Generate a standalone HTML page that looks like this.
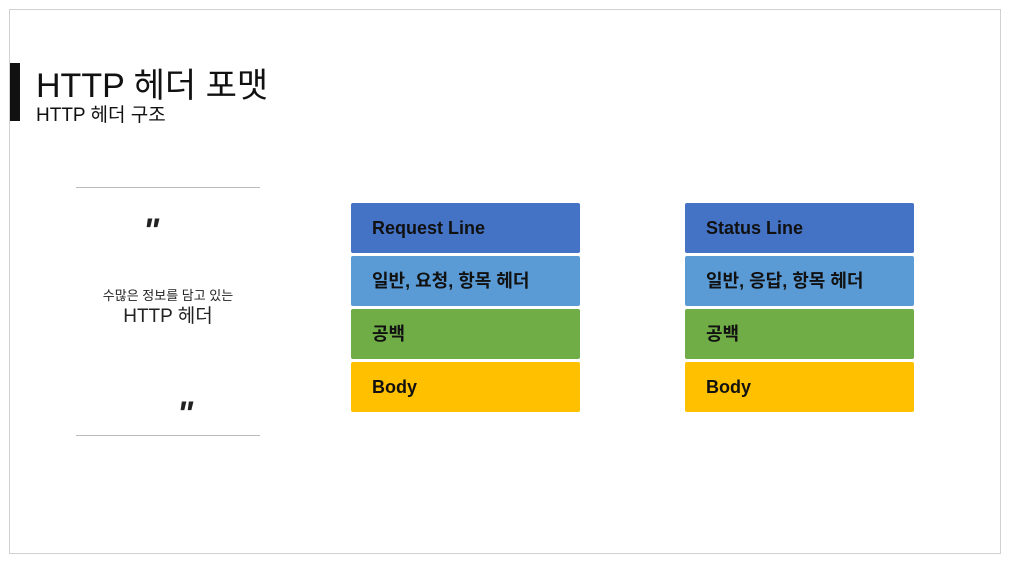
<!DOCTYPE html>
<html><head><meta charset="utf-8"><style>
body{margin:0;width:1011px;height:565px;background:#fff;position:relative;overflow:hidden;font-family:"Liberation Sans","Noto Sans CJK KR",sans-serif;}
.abs{position:absolute}
.frame{left:9px;top:9px;width:990px;height:543px;border:1px solid #d0d0d0}
.blk{position:absolute;width:229px;height:50px;border-radius:2px;font-weight:bold;font-size:18px;color:#111;line-height:50px;padding-left:21px;box-sizing:border-box}
.b1{background:#4472C4}.b2{background:#5B9BD5}.b3{background:#70AD47}.b4{background:#FFC000}
</style></head><body>
<div class="abs frame"></div>
<div class="abs" style="left:10px;top:63px;width:10px;height:58px;background:#111"></div>
<div class="abs" style="left:36px;top:58px;font-size:34px;color:#111;white-space:nowrap">HTTP 헤더 포맷</div>
<div class="abs" style="left:36px;top:100px;font-size:19px;color:#111;white-space:nowrap">HTTP 헤더 구조</div>
<div class="abs" style="left:76px;top:187px;width:184px;height:1px;background:#bbb"></div>
<div class="abs" style="left:76px;top:435px;width:184px;height:1px;background:#bbb"></div>
<div class="abs" style="left:143px;top:212px;font-size:34px;font-style:italic;font-weight:bold;color:#222">"</div>
<div class="abs" style="left:177px;top:395px;font-size:34px;font-style:italic;font-weight:bold;color:#222">"</div>
<div class="abs" style="left:68px;top:287px;width:200px;text-align:center;color:#222">
<div style="font-size:13px;line-height:18px">수많은 정보를 담고 있는</div>
<div style="font-size:19px;line-height:24px">HTTP 헤더</div></div>
<div class="blk b1" style="left:351px;top:203px">Request Line</div>
<div class="blk b2" style="left:351px;top:256px">일반, 요청, 항목 헤더</div>
<div class="blk b3" style="left:351px;top:309px">공백</div>
<div class="blk b4" style="left:351px;top:362px">Body</div>
<div class="blk b1" style="left:685px;top:203px">Status Line</div>
<div class="blk b2" style="left:685px;top:256px">일반, 응답, 항목 헤더</div>
<div class="blk b3" style="left:685px;top:309px">공백</div>
<div class="blk b4" style="left:685px;top:362px">Body</div>
</body></html>
